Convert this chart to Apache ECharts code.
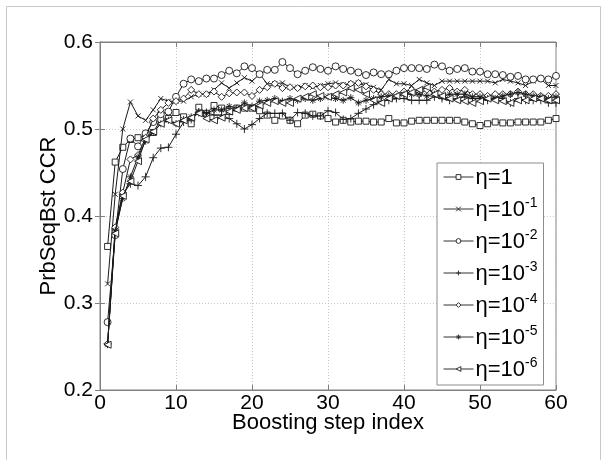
<!DOCTYPE html>
<html><head><meta charset="utf-8">
<script src="https://cdn.jsdelivr.net/npm/echarts@6/dist/echarts.min.js"></script>
<style>html,body{margin:0;padding:0;background:#fff}#c{width:608px;height:460px}</style>
</head><body><div id="c"></div>
<script>
var steps = [];
for (var i = 1; i <= 60; i++) steps.push(i);
var seriesNames = ['η=1','η=10-1','η=10-2','η=10-3','η=10-4','η=10-5','η=10-6'];
var eta1 = [0.365,0.462,0.479,0.488,0.490,0.492,0.496,0.511,0.512,0.519,0.514,0.506,0.525,0.518,0.527,0.524,0.520,0.524,0.524,0.524,0.521,0.516,0.510,0.515,0.510,0.506,0.516,0.517,0.515,0.512,0.508,0.510,0.508,0.509,0.509,0.508,0.508,0.512,0.507,0.507,0.509,0.510,0.510,0.510,0.510,0.510,0.510,0.508,0.506,0.504,0.506,0.508,0.507,0.507,0.508,0.508,0.508,0.508,0.510,0.512];
var eta1e1 = [0.322,0.425,0.500,0.531,0.515,0.510,0.522,0.535,0.532,0.532,0.532,0.537,0.540,0.540,0.545,0.553,0.547,0.553,0.559,0.555,0.563,0.552,0.552,0.553,0.548,0.548,0.550,0.548,0.550,0.552,0.553,0.551,0.552,0.553,0.551,0.548,0.545,0.557,0.552,0.552,0.550,0.557,0.553,0.550,0.555,0.555,0.555,0.555,0.555,0.555,0.555,0.553,0.557,0.555,0.553,0.550,0.555,0.557,0.550,0.550];
var eta1e2 = [0.278,0.378,0.454,0.489,0.480,0.495,0.508,0.517,0.520,0.537,0.552,0.557,0.555,0.558,0.558,0.562,0.567,0.564,0.572,0.570,0.563,0.568,0.568,0.577,0.570,0.563,0.567,0.571,0.569,0.567,0.572,0.569,0.567,0.565,0.562,0.565,0.563,0.563,0.567,0.570,0.570,0.570,0.569,0.574,0.572,0.567,0.569,0.570,0.566,0.566,0.563,0.563,0.562,0.560,0.561,0.557,0.557,0.558,0.557,0.561];
var eta1e3 = [0.253,0.385,0.425,0.437,0.435,0.445,0.467,0.478,0.479,0.494,0.508,0.511,0.519,0.519,0.516,0.516,0.512,0.506,0.500,0.505,0.512,0.518,0.518,0.518,0.510,0.519,0.518,0.515,0.515,0.521,0.519,0.511,0.512,0.518,0.523,0.528,0.532,0.533,0.535,0.535,0.533,0.533,0.533,0.537,0.535,0.533,0.535,0.537,0.535,0.535,0.533,0.537,0.535,0.530,0.535,0.533,0.533,0.533,0.530,0.530];
var eta1e4 = [0.253,0.387,0.427,0.465,0.470,0.490,0.512,0.522,0.530,0.532,0.535,0.545,0.540,0.540,0.543,0.537,0.541,0.542,0.542,0.538,0.545,0.548,0.552,0.547,0.548,0.547,0.549,0.550,0.548,0.548,0.550,0.550,0.552,0.553,0.549,0.545,0.540,0.540,0.540,0.543,0.545,0.540,0.545,0.543,0.545,0.547,0.543,0.545,0.540,0.540,0.538,0.540,0.540,0.540,0.543,0.540,0.540,0.538,0.538,0.540];
var eta1e5 = [0.252,0.383,0.420,0.445,0.468,0.486,0.496,0.506,0.510,0.506,0.511,0.514,0.520,0.518,0.522,0.522,0.526,0.524,0.530,0.526,0.532,0.533,0.535,0.532,0.535,0.533,0.535,0.533,0.535,0.537,0.535,0.533,0.536,0.530,0.533,0.535,0.537,0.538,0.537,0.540,0.540,0.540,0.538,0.540,0.537,0.540,0.540,0.540,0.537,0.537,0.535,0.535,0.538,0.540,0.542,0.540,0.538,0.537,0.535,0.537];
var eta1e6 = [0.252,0.380,0.423,0.440,0.463,0.488,0.497,0.506,0.510,0.506,0.510,0.513,0.518,0.512,0.510,0.513,0.520,0.522,0.524,0.524,0.527,0.530,0.532,0.530,0.530,0.535,0.537,0.540,0.538,0.537,0.540,0.542,0.547,0.545,0.540,0.533,0.530,0.535,0.538,0.540,0.542,0.545,0.548,0.540,0.538,0.535,0.533,0.532,0.530,0.532,0.535,0.533,0.532,0.530,0.533,0.533,0.535,0.535,0.533,0.533];
var xTicks = [0,10,20,30,40,50,60];
var yTicks = [0.2,0.3,0.4,0.5,0.6];

var allData = [eta1, eta1e1, eta1e2, eta1e3, eta1e4, eta1e5, eta1e6];
var symbols = [
  'rect',
  'path://M0,0 L10,10 M10,0 L0,10',
  'circle',
  'path://M5,0 L5,10 M0,5 L10,5',
  'diamond',
  'path://M5,0 L5,10 M0,5 L10,5 M1.5,1.5 L8.5,8.5 M8.5,1.5 L1.5,8.5',
  'path://M0,5 L10,0 L10,10 Z'
];
var symSizes = [6, 5, 7, 8, 7, 7, 7];

var series = allData.map(function (d, k) {
  return {
    name: seriesNames[k],
    type: 'line',
    data: steps.map(function (s, j) { return [s, d[j]]; }),
    symbol: symbols[k],
    symbolSize: symSizes[k],
    showAllSymbol: true,
    lineStyle: { color: '#1a1a1a', width: 1 },
    itemStyle: { color: '#fff', borderColor: '#1a1a1a', borderWidth: 0.9 },
    emphasis: { disabled: true },
    animation: false,
    z: 3 + k
  };
});

var chart = echarts.init(document.getElementById('c'));
var font = 'Liberation Sans, Arial, sans-serif';
chart.setOption({
  backgroundColor: '#fff',
  animation: false,
  graphic: [{ type: 'rect', shape: { x: 6.5, y: 6.5, width: 594, height: 470 }, style: { fill: 'none', stroke: '#c8c8c8', lineWidth: 1 }, z: 0 }],
  grid: { left: 100, right: 52, top: 42, bottom: 70, show: true, borderColor: '#808080', borderWidth: 1, backgroundColor: '#fff' },
  legend: {
    orient: 'vertical',
    left: 437, top: 163,
    padding: [4, 6, 4, 6],
    itemGap: 7,
    itemWidth: 30, itemHeight: 6,
    borderColor: '#8c8c8c', borderWidth: 1,
    backgroundColor: '#fff',
    data: seriesNames,
    itemStyle: { color: '#fff', borderColor: '#333', borderWidth: 1 },
    lineStyle: { color: '#333', width: 1 },
    formatter: function (name) {
      var p = name.split('10');
      if (p.length > 1) return '{b|η=10}{s|' + p[1] + '}';
      return '{b|' + name + '}';
    },
    textStyle: {
      fontFamily: font, color: '#000', padding: [0, 0, 0, -3],
      rich: {
        b: { fontSize: 22, fontFamily: font, color: '#000', verticalAlign: 'bottom', lineHeight: 24 },
        s: { fontSize: 14, fontFamily: font, color: '#000', verticalAlign: 'bottom', lineHeight: 24, padding: [0, 0, 11, 0] }
      }
    }
  },
  xAxis: [{
    type: 'value', min: 0, max: 60, interval: 10,
    name: 'Boosting step index', nameLocation: 'middle', nameGap: 22, nameMoveOverlap: false,
    nameTextStyle: { fontFamily: font, fontSize: 22, color: '#000' },
    axisLine: { show: true, lineStyle: { color: '#808080' } },
    axisTick: { show: true, inside: true, length: 5, lineStyle: { color: '#808080' } },
    axisLabel: { fontFamily: font, fontSize: 21, color: '#000', margin: 3, formatter: function (v) { return xTicks.indexOf(v) >= 0 ? String(v) : ''; } },
    splitLine: { show: true, lineStyle: { color: '#c8c8c8', type: [1, 2], width: 1 } }
  }, {
    type: 'value', min: 0, max: 60, interval: 10, position: 'top',
    axisLine: { show: true, lineStyle: { color: '#808080' } },
    axisTick: { show: true, inside: true, length: 5, lineStyle: { color: '#808080' } },
    axisLabel: { show: false }, splitLine: { show: false }
  }],
  yAxis: [{
    type: 'value', min: 0.2, max: 0.6, interval: 0.1,
    name: 'PrbSeqBst CCR', nameLocation: 'middle', nameGap: 40, nameMoveOverlap: false,
    nameTextStyle: { fontFamily: font, fontSize: 22, color: '#000' },
    axisLine: { show: true, lineStyle: { color: '#808080' } },
    axisTick: { show: true, inside: true, length: 5, lineStyle: { color: '#808080' } },
    axisLabel: { fontFamily: font, fontSize: 21, color: '#000', margin: 7, formatter: function (v) { return v.toFixed(1); } },
    splitLine: { show: true, lineStyle: { color: '#c8c8c8', type: [1, 2], width: 1 } }
  }, {
    type: 'value', min: 0.2, max: 0.6, interval: 0.1, position: 'right',
    axisLine: { show: true, lineStyle: { color: '#808080' } },
    axisTick: { show: true, inside: true, length: 5, lineStyle: { color: '#808080' } },
    axisLabel: { show: false }, splitLine: { show: false }
  }],
  series: series
});
</script>
</body></html>
